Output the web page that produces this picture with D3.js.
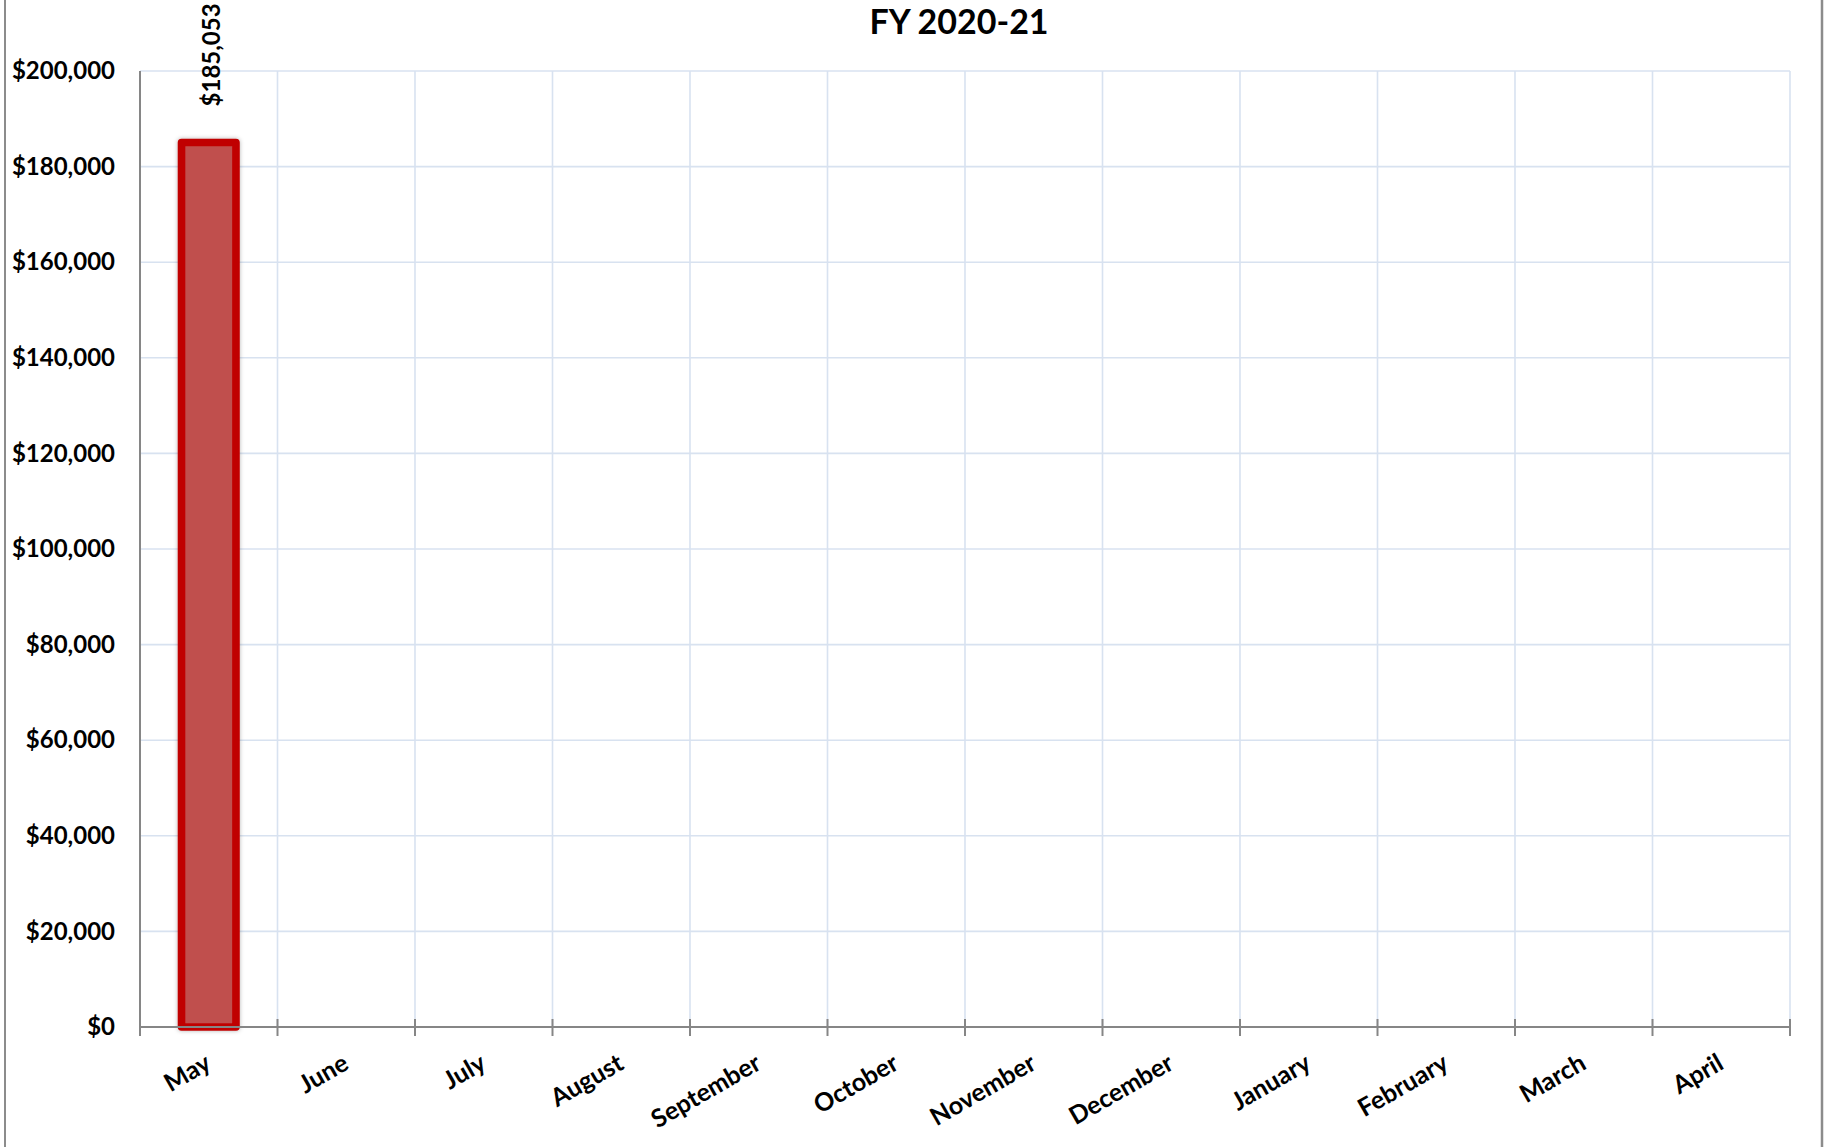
<!DOCTYPE html>
<html>
<head>
<meta charset="utf-8">
<script src="https://cdn.jsdelivr.net/npm/d3@7"></script>
<style>
  html, body { margin: 0; padding: 0; background: #ffffff; }
  svg { display: block; }
  text { font-family: Lato, "Open Sans", sans-serif; font-weight: 700; fill: #000; }
</style>
</head>
<body>
<svg id="chart" width="1824" height="1147"></svg>
<script>
// Monthly totals for the fiscal year (May through April); months without data are null
const months = ["May", "June", "July", "August", "September", "October",
                "November", "December", "January", "February", "March", "April"];
const amounts = [185053, null, null, null, null, null, null, null, null, null, null, null];
const yTickValues = [0, 20000, 40000, 60000, 80000, 100000, 120000, 140000, 160000, 180000, 200000];
const chartTitle = "FY 2020-21";

const W = 1824, H = 1147;
const plot = { left: 140, right: 1790, top: 71, bottom: 1027 };

const svg = d3.select("#chart");

// drop shadow around the bar
const defs = svg.append("defs");
const shadow = defs.append("filter").attr("id", "barShadow")
  .attr("x", "-30%").attr("y", "-5%").attr("width", "160%").attr("height", "110%");
shadow.append("feDropShadow").attr("dx", 0).attr("dy", 0)
  .attr("stdDeviation", 2).attr("flood-color", "#000").attr("flood-opacity", 0.3);

// outer frame edges
svg.append("line").attr("x1", 5).attr("x2", 5).attr("y1", 0).attr("y2", H)
  .attr("stroke", "#8c8c8c").attr("stroke-width", 2);
svg.append("line").attr("x1", 1822).attr("x2", 1822).attr("y1", 0).attr("y2", H)
  .attr("stroke", "#8c8c8c").attr("stroke-width", 2.5);

const x = d3.scaleBand().domain(months).range([plot.left, plot.right]).padding(0);
const y = d3.scaleLinear().domain([0, 200000]).range([plot.bottom, plot.top]);

// gridlines
const grid = svg.append("g").attr("stroke", "#d8e2f0").attr("stroke-width", 1.6);
grid.selectAll("line.h").data(yTickValues.filter(v => v > 0)).join("line")
  .attr("x1", plot.left).attr("x2", plot.right)
  .attr("y1", d => y(d)).attr("y2", d => y(d));
grid.selectAll("line.v").data(months).join("line")
  .attr("x1", d => x(d) + x.bandwidth()).attr("x2", d => x(d) + x.bandwidth())
  .attr("y1", plot.top).attr("y2", plot.bottom);

// bars
const barFrac = 0.396;
const bw = x.bandwidth() * barFrac;
const barData = months.map((m, i) => ({ month: m, value: amounts[i] })).filter(d => d.value != null);

svg.append("g").selectAll("rect").data(barData).join("rect")
  .attr("x", d => x(d.month) + (x.bandwidth() - bw) / 2)
  .attr("width", bw)
  .attr("y", d => y(d.value))
  .attr("height", d => y(0) - y(d.value))
  .attr("fill", "#c0504d")
  .attr("stroke", "#c00000")
  .attr("stroke-width", 7.6)
  .attr("stroke-linejoin", "round")
  .attr("filter", "url(#barShadow)");

// y axis
const yAxis = d3.axisLeft(y).tickValues(yTickValues).tickSize(0).tickPadding(25)
  .tickFormat(d3.format("$,.0f"));
const gy = svg.append("g").attr("transform", `translate(${plot.left},0)`).call(yAxis);
gy.select(".domain").remove();
gy.selectAll("text").attr("font-size", 24).attr("font-family", "Lato, sans-serif")
  .attr("font-weight", 700).attr("fill", "#000");
svg.append("line").attr("x1", plot.left).attr("x2", plot.left)
  .attr("y1", plot.top).attr("y2", plot.bottom + 9)
  .attr("stroke", "#868686").attr("stroke-width", 2);

// x axis: baseline with tick marks at category boundaries
svg.append("line").attr("x1", plot.left).attr("x2", plot.right)
  .attr("y1", plot.bottom).attr("y2", plot.bottom)
  .attr("stroke", "#868686").attr("stroke-width", 2);
svg.append("g").selectAll("line").data(months).join("line")
  .attr("x1", d => x(d) + x.bandwidth()).attr("x2", d => x(d) + x.bandwidth())
  .attr("y1", plot.bottom - 8).attr("y2", plot.bottom + 9)
  .attr("stroke", "#868686").attr("stroke-width", 2);

// rotated month labels
svg.append("g").selectAll("text").data(months).join("text")
  .attr("transform", d => `translate(${x(d) + x.bandwidth() / 2 + 4},${plot.bottom + 41}) rotate(-30)`)
  .attr("text-anchor", "end")
  .attr("font-size", 25)
  .text(d => d);

// value labels above bars
svg.append("g").selectAll("text").data(barData).join("text")
  .attr("transform", d => `translate(${x(d.month) + x.bandwidth() / 2 + 3},${y(d.value) - 36}) rotate(-90)`)
  .attr("text-anchor", "start")
  .attr("dy", "0.36em")
  .attr("font-size", 24)
  .text(d => d3.format("$,.0f")(d.value));

// title
svg.append("text").attr("x", 959).attr("y", 34).attr("text-anchor", "middle")
  .attr("font-size", 34).text(chartTitle);
</script>
</body>
</html>
